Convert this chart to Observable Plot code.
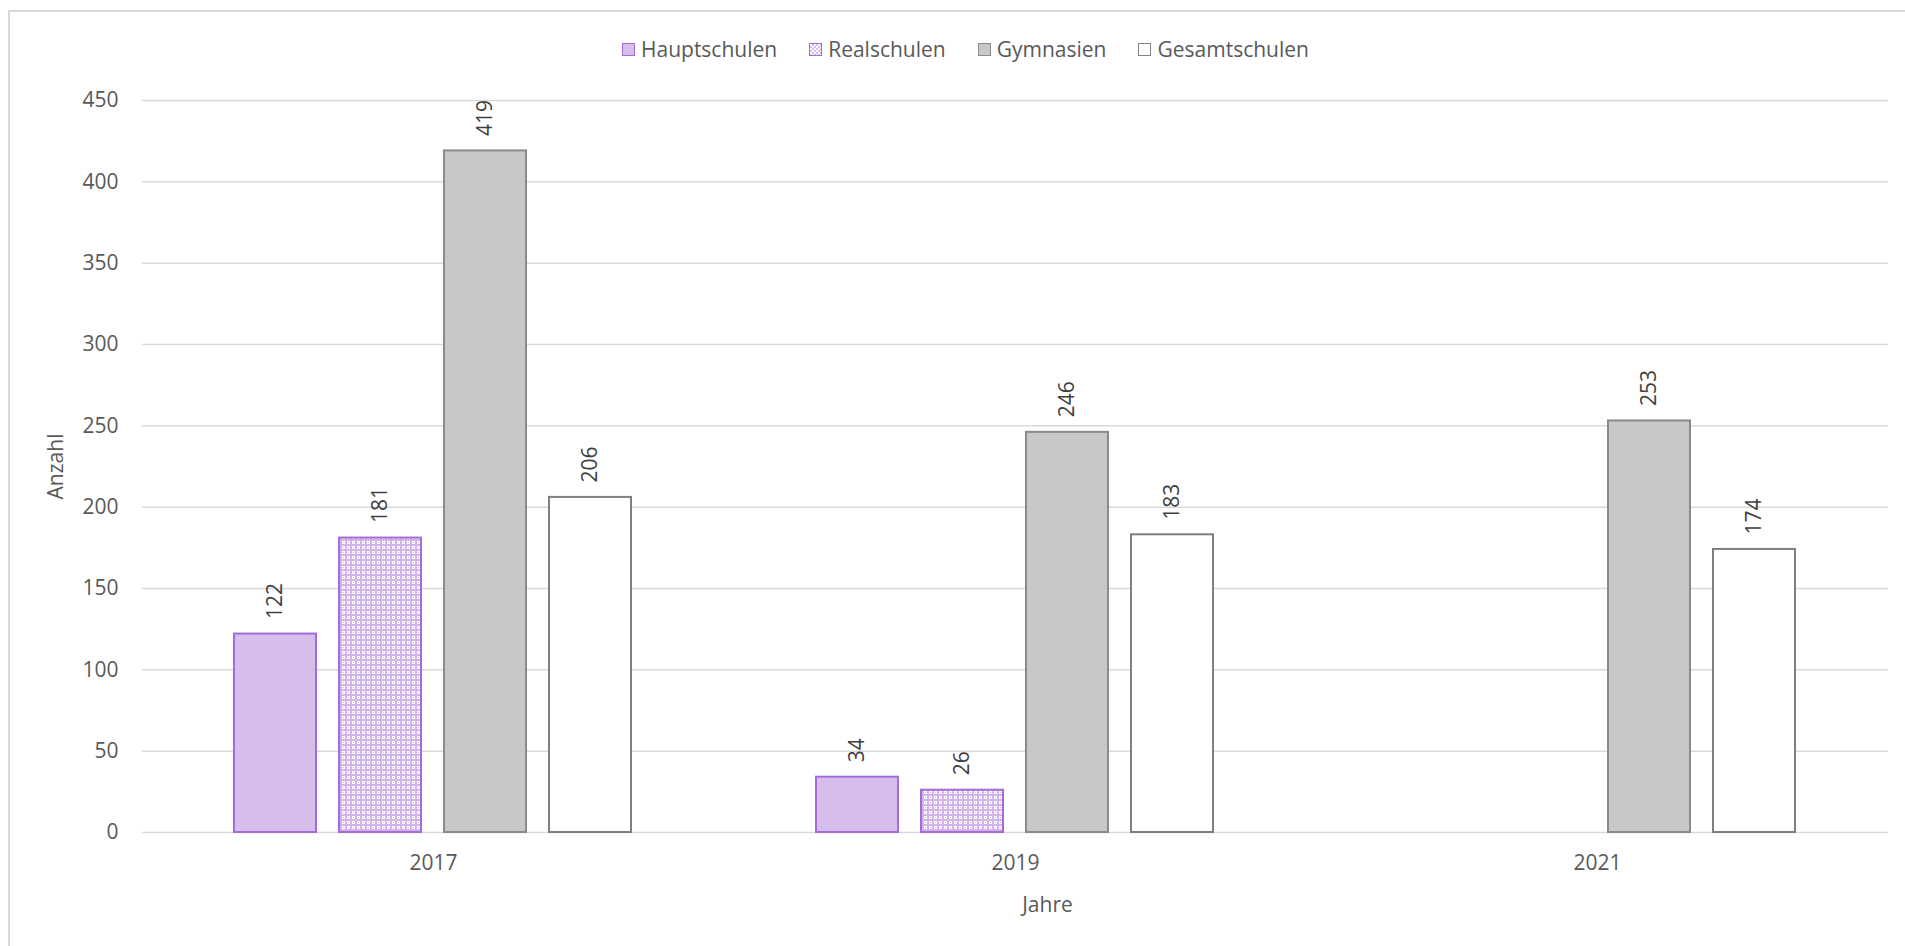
<!DOCTYPE html>
<html><head><meta charset="utf-8">
<script src="https://cdn.jsdelivr.net/npm/d3@7"></script>
<script src="https://cdn.jsdelivr.net/npm/@observablehq/plot@0.6"></script>
<style>
html,body{margin:0;padding:0;background:#fff;overflow:hidden;}
body{width:1905px;height:946px;position:relative;font-family:"Open Sans",sans-serif;}
#frame{position:absolute;left:8px;top:10px;width:1960px;height:1000px;border:2px solid #d9d9d9;pointer-events:none;}
#legend{height:80px;box-sizing:border-box;padding-left:622px;padding-top:18px;display:flex;align-items:center;gap:32px;font-size:21px;color:#595959;}
.item{display:flex;align-items:center;gap:6px;}
.sw{width:11px;height:11px;border:1.5px solid;}
#chart svg{display:block;}
#xlabel{height:40px;line-height:40px;box-sizing:border-box;width:1905px;padding-left:190px;text-align:center;font-size:21px;color:#595959;}
</style></head><body>
<div id="legend"></div>
<div id="chart"></div>
<div id="xlabel">Jahre</div>
<div id="frame"></div>
<script>
const years = ["2017", "2019", "2021"];
const schoolTypes = ["Hauptschulen", "Realschulen", "Gymnasien", "Gesamtschulen"];
const hauptschulen = [122, 34, null];
const realschulen = [181, 26, null];
const gymnasien = [419, 246, 253];
const gesamtschulen = [206, 183, 174];
const yTicks = [0, 50, 100, 150, 200, 250, 300, 350, 400, 450];

const fills = ["#d6bdeb", "url(#realPattern)", "#c8c8c8", "#ffffff"];
const strokes = ["#a46bd9", "#a46bd9", "#8a8a8a", "#7f7f7f"];
const legendBg = ["#d6bdeb", "repeating-conic-gradient(#d6bdeb 0 25%, #fff 0 50%) 0 0/4px 4px", "#c8c8c8", "#ffffff"];

const series = [hauptschulen, realschulen, gymnasien, gesamtschulen];
const table = [];
series.forEach((vals, i) => {
  vals.forEach((v, j) => {
    if (v != null) table.push({year: years[j], type: schoolTypes[i], value: v, fill: fills[i], stroke: strokes[i]});
  });
});

// legend
const legend = document.getElementById("legend");
schoolTypes.forEach((t, i) => {
  const it = document.createElement("div");
  it.className = "item";
  const sw = document.createElement("div");
  sw.className = "sw";
  sw.style.background = legendBg[i];
  sw.style.borderColor = strokes[i];
  const lb = document.createElement("span");
  lb.textContent = t;
  it.appendChild(sw); it.appendChild(lb);
  legend.appendChild(it);
});

const chart = Plot.plot({
  width: 1905,
  height: 804,
  marginLeft: 141,
  marginRight: 16,
  marginTop: 20,
  marginBottom: 52,
  style: {fontFamily: "Open Sans", fontSize: "21px", color: "#595959", background: "white", overflow: "visible"},
  fx: {domain: years, padding: 0, axis: "bottom", label: null, tickSize: 0, tickPadding: 23},
  x: {domain: schoolTypes, paddingInner: 0.217, paddingOuter: 0.858, axis: null},
  y: {domain: [0, 450], ticks: yTicks, tickSize: 0, tickPadding: 24, label: "Anzahl", labelAnchor: "center", labelOffset: 94, labelArrow: "none"},
  color: {type: "identity"},
  marks: [
    Plot.ruleY(yTicks, {stroke: "#d9d9d9", strokeWidth: 1.5}),
    Plot.barY(table, {fx: "year", x: "type", y: "value", fill: "fill", stroke: "stroke", strokeWidth: 2}),
    Plot.text(table, {fx: "year", x: "type", y: "value", text: d => String(d.value), rotate: -90, textAnchor: "start", dy: -15, fill: "#404040", fontSize: 21})
  ]
});

const svg = d3.select(chart);
const defs = svg.insert("defs", ":first-child");
const pat = defs.append("pattern").attr("id", "realPattern").attr("patternUnits", "userSpaceOnUse").attr("width", 5).attr("height", 5);
pat.append("rect").attr("width", 5).attr("height", 5).attr("fill", "#d2b4ea");
pat.append("rect").attr("x", 1).attr("y", 1).attr("width", 3).attr("height", 3).attr("fill", "#ffffff");
pat.append("rect").attr("x", 2).attr("y", 2).attr("width", 1).attr("height", 1).attr("fill", "#d2b4ea");

document.getElementById("chart").appendChild(chart);
</script>
</body></html>
